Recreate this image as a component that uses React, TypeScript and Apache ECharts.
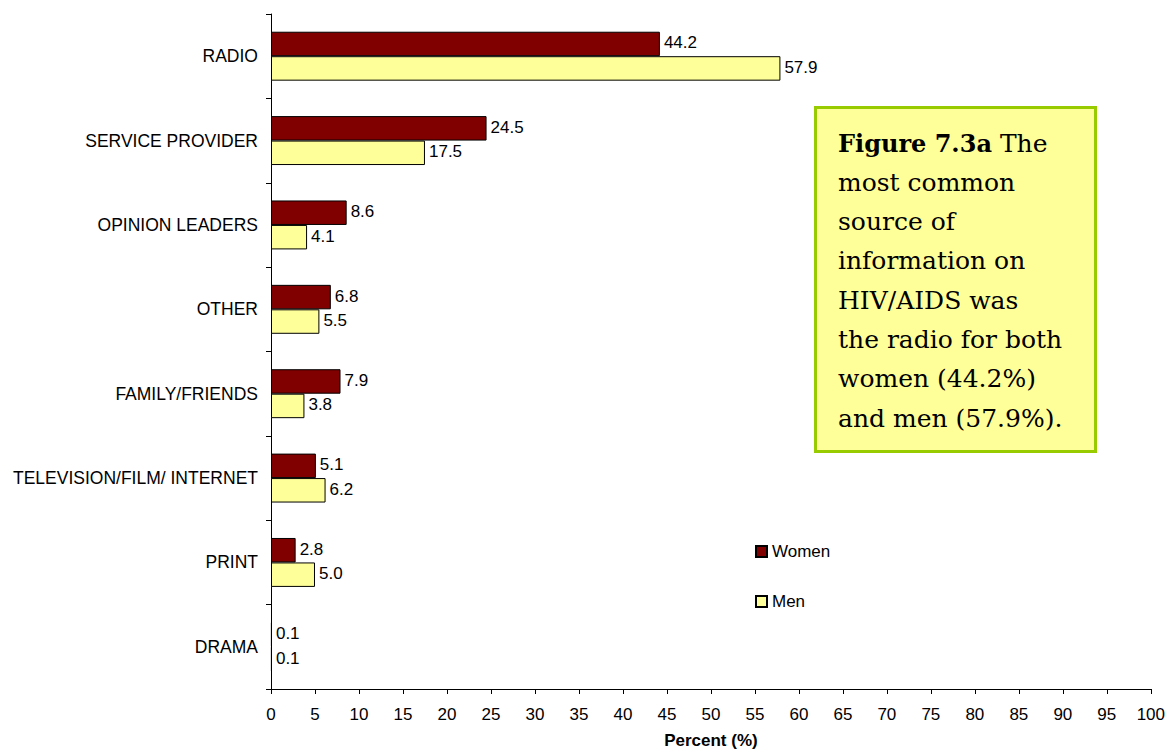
import React, { useEffect, useRef } from "react";
import * as echarts from "echarts";

const categories = [
  "RADIO",
  "SERVICE PROVIDER",
  "OPINION LEADERS",
  "OTHER",
  "FAMILY/FRIENDS",
  "TELEVISION/FILM/ INTERNET",
  "PRINT",
  "DRAMA",
];
const women = [44.2, 24.5, 8.6, 6.8, 7.9, 5.1, 2.8, 0.1];
const men = [57.9, 17.5, 4.1, 5.5, 3.8, 6.2, 5.0, 0.1];
const xTicks = { min: 0, max: 100, interval: 5 };
const noteLines = [
  "most common",
  "source of",
  "information on",
  "HIV/AIDS was",
  "the radio for both",
  "women (44.2%)",
  "and men (57.9%).",
];

const FONT = "Liberation Sans, Arial, sans-serif";
const SERIF = "DejaVu Serif, serif";

export default function App() {
  const ref = useRef<HTMLDivElement>(null);
  useEffect(() => {
    if (!ref.current) return;
    const chart = echarts.init(ref.current, undefined, { renderer: "svg" });
    const lineH = 39.3;
    const textX = 838;
    const firstY = 143;
    const noteGraphics: any[] = [
      {
        type: "rect",
        shape: { x: 815.5, y: 107.5, width: 280, height: 344 },
        style: { fill: "#FFFF99", stroke: "#99CC00", lineWidth: 3 },
        z: 10,
      },
      {
        type: "text",
        x: textX,
        y: firstY,
        style: {
          text: "{b|Figure 7.3a} The",
          font: `25px ${SERIF}`,
          fill: "#000",
          verticalAlign: "middle",
          rich: {
            b: { fontWeight: "bold", fontSize: 24, fontFamily: SERIF, fill: "#000" },
          },
        },
        z: 11,
      },
      ...noteLines.map((t, i) => ({
        type: "text",
        x: textX,
        y: firstY + (i + 1) * lineH,
        style: {
          text: t,
          font: `25px ${SERIF}`,
          fill: "#000",
          verticalAlign: "middle",
        },
        z: 11,
      })),
    ];

    const labelOpt = {
      show: true,
      position: "right",
      distance: 4,
      offset: [0, -1],
      color: "#000",
      fontSize: 17,
      fontFamily: FONT,
      formatter: (p: any) => Number(p.value).toFixed(1),
    };

    chart.setOption({
      animation: false,
      backgroundColor: "#fff",
      grid: { left: 271, right: 16, top: 14, bottom: 65, containLabel: false },
      legend: {
        orient: "vertical",
        left: 750,
        top: 538,
        itemWidth: 11,
        itemHeight: 11,
        itemGap: 33,
        icon: "rect",
        textStyle: { fontSize: 17, fontFamily: FONT, color: "#000" },
        data: ["Women", "Men"],
      },
      xAxis: {
        type: "value",
        min: xTicks.min,
        max: xTicks.max,
        interval: xTicks.interval,
        name: "Percent (%)",
        nameLocation: "middle",
        nameGap: 43,
        nameTextStyle: { fontSize: 17, fontWeight: "bold", fontFamily: FONT, color: "#000" },
        axisLine: { show: true, lineStyle: { color: "#000", width: 1 } },
        axisTick: { show: true, length: 5, lineStyle: { color: "#000" } },
        axisLabel: { fontSize: 17, fontFamily: FONT, color: "#000", margin: 17 },
        splitLine: { show: false },
      },
      yAxis: {
        type: "category",
        inverse: true,
        data: categories,
        axisLine: { show: true, lineStyle: { color: "#000", width: 1 } },
        axisTick: { show: true, length: 5, lineStyle: { color: "#000" } },
        axisLabel: { fontSize: 17.5, fontFamily: FONT, color: "#000", margin: 13 },
      },
      series: [
        {
          name: "Women",
          type: "bar",
          data: women,
          barGap: "0%",
          barCategoryGap: "42%",
          itemStyle: { color: "#800000", borderColor: "#000", borderWidth: 1 },
          label: labelOpt,
        },
        {
          name: "Men",
          type: "bar",
          data: men,
          barGap: "0%",
          barCategoryGap: "42%",
          itemStyle: { color: "#FFFF99", borderColor: "#000", borderWidth: 1 },
          label: labelOpt,
        },
      ],
      graphic: noteGraphics,
    });
    return () => chart.dispose();
  }, []);
  return (
    <div
      ref={ref}
      style={{ position: "fixed", left: 0, top: 0, width: 1168, height: 754 }}
    />
  );
}
